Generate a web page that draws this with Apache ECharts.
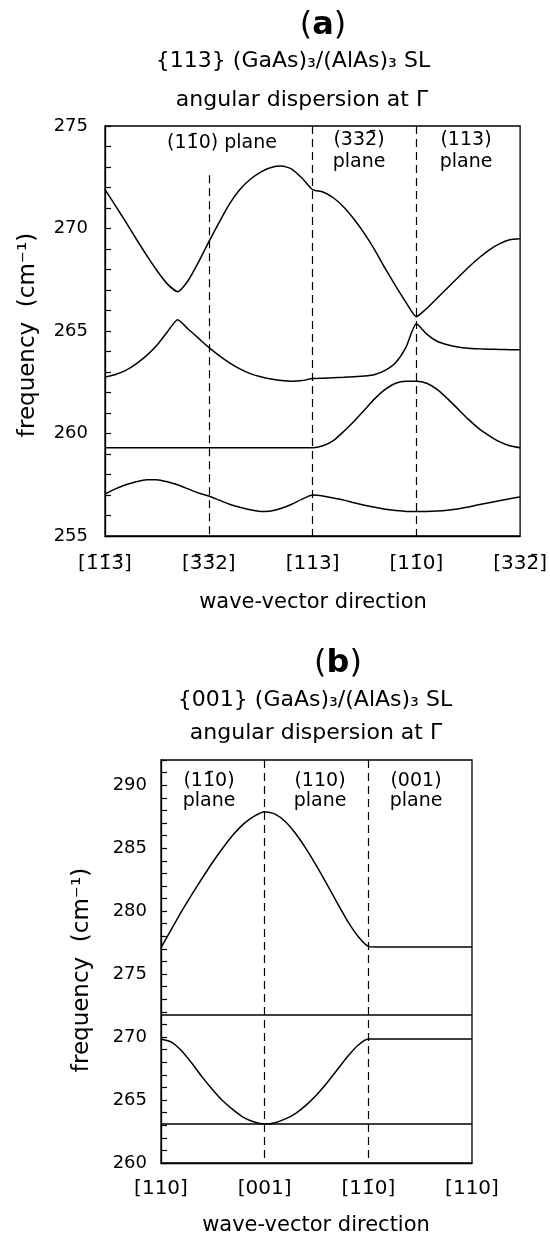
<!DOCTYPE html>
<html>
<head>
<meta charset="utf-8">
<script src="https://cdn.jsdelivr.net/npm/echarts@6/dist/echarts.min.js"></script>
<style>
html,body{margin:0;padding:0;background:#fff;}
#chart{width:550px;height:1238px;}
</style>
</head>
<body>
<div id="chart"></div>
<script>
// ---------- Panel (a) data ----------
const xsA = [0,0.1,0.2,0.3,0.4,0.5,0.6,0.7,0.8,0.9,1.0,1.1,1.2,1.3,1.4,1.5,1.6,1.7,1.8,1.9,2.0,
             2.1,2.2,2.3,2.4,2.5,2.6,2.7,2.8,2.9,3.0,3.1,3.2,3.3,3.4,3.5,3.6,3.7,3.8,3.9,4.0];
const aMode1 = [271.9,271.12,270.32,269.5,268.7,267.95,267.3,266.92,267.45,268.35,269.35,
                270.3,271.2,271.9,272.4,272.75,272.98,273.05,272.9,272.45,271.9,
                271.78,271.5,271.05,270.45,269.75,268.95,268.05,267.2,266.4,265.7,
                266.1,266.6,267.1,267.6,268.1,268.55,268.95,269.25,269.45,269.5];
const aMode2 = [262.75,262.88,263.08,263.4,263.8,264.3,264.95,265.55,265.1,264.65,264.2,
                263.8,263.45,263.15,262.92,262.77,262.66,262.58,262.55,262.58,262.68,
                262.7,262.72,262.74,262.77,262.8,262.88,263.08,263.45,264.2,265.35,
                264.85,264.5,264.33,264.22,264.16,264.13,264.11,264.1,264.09,264.08];
const aMode3 = [259.3,259.3,259.3,259.3,259.3,259.3,259.3,259.3,259.3,259.3,259.3,
                259.3,259.3,259.3,259.3,259.3,259.3,259.3,259.3,259.3,259.3,
                259.4,259.65,260.1,260.6,261.15,261.7,262.15,262.45,262.55,262.55,
                262.45,262.15,261.7,261.2,260.7,260.25,259.9,259.6,259.4,259.3];
const aMode4 = [257.05,257.3,257.5,257.65,257.75,257.75,257.65,257.5,257.3,257.1,256.95,
                256.75,256.55,256.4,256.28,256.2,256.22,256.35,256.55,256.8,257.0,
                256.95,256.85,256.75,256.62,256.5,256.4,256.3,256.24,256.2,256.2,
                256.2,256.22,256.26,256.32,256.41,256.52,256.62,256.72,256.82,256.9];
const xTicksA = ['[1\u03041\u03043\u0304]', '[3\u03043\u03042]', '[113]', '[11\u03040]', '[332\u0304]'];
const dividersA = [1, 2, 3];
const yRangeA = [255, 275];

// ---------- Panel (b) data ----------
const xsB = [0,0.1,0.2,0.3,0.4,0.5,0.6,0.7,0.8,0.9,1.0,1.1,1.2,1.3,1.4,1.5,1.6,1.7,1.8,1.9,2.0,
             2.1,2.2,2.3,2.4,2.5,2.6,2.7,2.8,2.9,3.0];
const bMode1 = [277.1,278.55,280.0,281.35,282.65,283.9,285.05,286.1,286.95,287.55,287.9,
                287.7,287.1,286.15,284.95,283.6,282.15,280.65,279.2,278.0,277.2,
                277.15,277.15,277.15,277.15,277.15,277.15,277.15,277.15,277.15,277.15];
const bMode2 = [271.75,271.75,271.75,271.75,271.75,271.75,271.75,271.75,271.75,271.75,271.75,
                271.75,271.75,271.75,271.75,271.75,271.75,271.75,271.75,271.75,271.75,
                271.75,271.75,271.75,271.75,271.75,271.75,271.75,271.75,271.75,271.75];
const bMode3 = [269.85,269.6,268.9,267.9,266.8,265.8,264.9,264.2,263.6,263.25,263.1,
                263.2,263.5,263.95,264.6,265.4,266.35,267.4,268.45,269.35,269.85,
                269.85,269.85,269.85,269.85,269.85,269.85,269.85,269.85,269.85,269.85];
const bMode4 = [263.1,263.1,263.1,263.1,263.1,263.1,263.1,263.1,263.1,263.1,263.1,
                263.1,263.1,263.1,263.1,263.1,263.1,263.1,263.1,263.1,263.1,
                263.1,263.1,263.1,263.1,263.1,263.1,263.1,263.1,263.1,263.1];
const xTicksB = ['[110]', '[001]', '[11\u03040]', '[110]'];
const dividersB = [1, 2];
const yRangeB = [260, 292];

// ---------- texts ----------
const titleA = ['{113} (GaAs)\u2083/(AlAs)\u2083 SL', 'angular dispersion at \u0393'];
const titleB = ['{001} (GaAs)\u2083/(AlAs)\u2083 SL', 'angular dispersion at \u0393'];
const planesA = ['(11\u03040) plane', '(332\u0304)\nplane', '(113)\nplane'];
const planesB = ['(11\u03040)\nplane', '(110)\nplane', '(001)\nplane'];
const yName = 'frequency  (cm\u207B\u00B9)';
const xName = 'wave-vector direction';

const FONT = 'DejaVu Sans';
const zip = (xs, ys) => xs.map((x, i) => [x, ys[i]]);

function curve(data, gi) {
  return {
    type: 'line', xAxisIndex: gi, yAxisIndex: gi, data: data,
    symbol: 'none', smooth: 0.2, silent: true, animation: false,
    lineStyle: { color: '#000', width: 1.5 }
  };
}

const dashStyle = { color: '#000', width: 1.2, type: [8, 5] };

const seriesA = [aMode1, aMode2, aMode3, aMode4].map(m => curve(zip(xsA, m), 0));
seriesA[0].markLine = {
  silent: true, symbol: 'none', animation: false, label: { show: false },
  lineStyle: dashStyle,
  data: dividersA.map(d => [{ coord: [d, d === 1 ? 272.6 : yRangeA[1]] }, { coord: [d, yRangeA[0]] }])
};
const seriesB = [bMode1, bMode2, bMode3, bMode4].map(m => curve(zip(xsB, m), 1));
seriesB[0].markLine = {
  silent: true, symbol: 'none', animation: false, label: { show: false },
  lineStyle: dashStyle,
  data: dividersB.map(d => [{ coord: [d, yRangeB[1]] }, { coord: [d, yRangeB[0]] }])
};

function xAxisCfg(gi, labels, max, margin) {
  return {
    type: 'value', gridIndex: gi, min: 0, max: max, interval: 1,
    axisLine: { show: true, lineStyle: { color: '#000', width: 1.3 } },
    axisTick: { show: false }, splitLine: { show: false },
    axisLabel: { formatter: v => labels[Math.round(v)] || '', color: '#000',
                 fontFamily: FONT, fontSize: 20, margin: margin }
  };
}
function yAxisCfg(gi, range, fs, margin) {
  return {
    type: 'value', gridIndex: gi, min: range[0], max: range[1], interval: 1,
    axisLine: { show: true, lineStyle: { color: '#000', width: 1.3 } },
    axisTick: { show: true, inside: true, length: 6, lineStyle: { color: '#000', width: 1.2 } },
    splitLine: { show: false },
    axisLabel: { formatter: v => (v % 5 === 0 ? String(v) : ''), color: '#000',
                 fontFamily: FONT, fontSize: fs, margin: margin }
  };
}

function txt(text, x, y, fs, extra) {
  return {
    type: 'text', x: x, y: y, silent: true,
    style: Object.assign({ text: text, fill: '#000', font: fs + 'px "' + FONT + '"',
      align: 'center', verticalAlign: 'middle', lineHeight: Math.round(fs * 1.2) }, extra || {})
  };
}
function panelLetter(letter, x, y) {
  return {
    type: 'text', x: x, y: y, silent: true,
    style: {
      text: '{p|(}{b|' + letter + '}{p|)}', align: 'center', verticalAlign: 'middle',
      rich: {
        p: { fontSize: 32, fontFamily: FONT, fill: '#000', fontWeight: 'normal' },
        b: { fontSize: 32, fontFamily: FONT, fill: '#000', fontWeight: 'bold' }
      }
    }
  };
}
function vText(text, x, y, fs) {
  return {
    type: 'text', x: x, y: y, rotation: Math.PI / 2, silent: true,
    style: { text: text, fill: '#000', font: fs + 'px "' + FONT + '"', align: 'center', verticalAlign: 'middle' }
  };
}

const option = {
  backgroundColor: '#fff',
  animation: false,
  grid: [
    { left: 105, top: 126, width: 416, height: 410, show: true, borderColor: '#000', borderWidth: 1.3, backgroundColor: 'transparent' },
    { left: 161, top: 760, width: 311, height: 403, show: true, borderColor: '#000', borderWidth: 1.3, backgroundColor: 'transparent' }
  ],
  xAxis: [ xAxisCfg(0, xTicksA, 4, 18), xAxisCfg(1, xTicksB, 3, 16) ],
  yAxis: [ yAxisCfg(0, yRangeA, 18, 17), yAxisCfg(1, yRangeB, 18, 14) ],
  series: seriesA.concat(seriesB),
  graphic: [
    panelLetter('a', 323, 26),
    txt(titleA[0], 293, 61, 22),
    txt(titleA[1], 302, 100, 22),
    txt(planesA[0], 222, 143, 19),
    txt(planesA[1], 359, 151, 19, { lineHeight: 22 }),
    txt(planesA[2], 466, 151, 19, { lineHeight: 22 }),
    txt(xName, 313, 603, 21),
    vText(yName, 28, 335, 23),

    panelLetter('b', 338, 664),
    txt(titleB[0], 315, 700, 22),
    txt(titleB[1], 316, 733, 22),
    txt(planesB[0], 209, 791, 19, { lineHeight: 20 }),
    txt(planesB[1], 320, 791, 19, { lineHeight: 20 }),
    txt(planesB[2], 416, 791, 19, { lineHeight: 20 }),
    txt(xName, 316, 1226, 21),
    vText(yName, 82, 970, 23)
  ]
};

const chart = echarts.init(document.getElementById('chart'), null, { renderer: 'canvas' });
chart.setOption(option);
</script>
</body>
</html>
